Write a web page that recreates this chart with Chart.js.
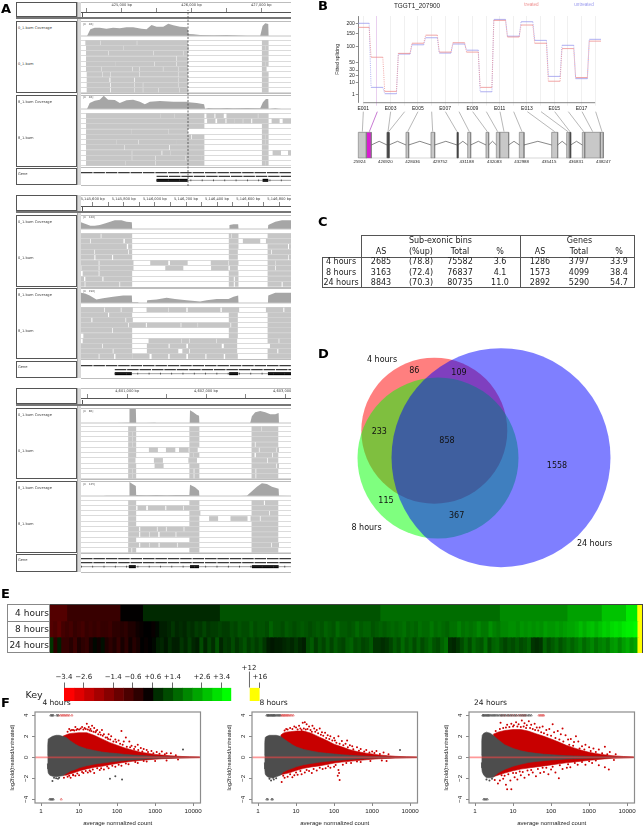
<!DOCTYPE html>
<html>
<head>
<meta charset="utf-8">
<script src="https://cdn.jsdelivr.net/npm/chart.js@4"></script>
<style>
  html, body { margin: 0; padding: 0; background: #fff; }
  #page { position: absolute; left: 0; top: 0; width: 643px; height: 827px; overflow: hidden; filter: blur(0.35px); }
  #page canvas, #page div, #page span { position: absolute; }
  #page span { white-space: nowrap; font-family: "DejaVu Sans", sans-serif; color: #222; line-height: 1; }
</style>
</head>
<body>
<div id="page"></div>
<script>
// ---------- panel A: browser tracks, x read in view units along each track ----------
const viewMin = 244, viewMax = 872;

const ruler1Ticks = [424500,425000,425500,426000,426500,427000];
const ruler2Ticks = [5145600,5145700,5145800,5145900,5146000,5146100,5146200,5146300,5146400,5146500,5146600,5146700,5146800];
const ruler3Ticks = [4600500,4601000,4601500,4602000,4602500,4603000];

const cov1a = [[244,0],[262,0],[272,20],[285,25],[300,25],[320,22],[340,25],[360,23],[380,26],[400,26],[425,22],[440,20],[455,33],[470,28],[490,28],[505,37],[520,32],[540,28],[562,26],[566,6],[580,5],[600,3],[640,2],[680,3],[700,2],[740,1],[780,1],[787,30],[795,38],[804,36],[805,0],[872,0]];
const reads1a = [
  [258,300,303,410,413,563,786,804],
  [260,370,372,552,553,565,786,794,796,804],
  [260,325,328,460,463,548,551,563,786,804],
  [260,528,531,563,786,804],
  [260,345,347,462,465,528,531,563,786,794,796,804],
  [260,303,306,397,400,418,421,488,491,533,536,563,786,798],
  [262,306,309,330,333,418,421,533,536,563,786,804],
  [262,328,333,402,406,533,536,563,786,804],
  [262,330,334,403,406,428,431,533,536,563,786,804],
  [262,330,334,403,406,428,431,475,478,538,541,563,786,804]
];
const cov1b = [[244,0],[262,0],[270,18],[285,25],[300,28],[312,40],[325,28],[345,27],[360,18],[380,26],[400,28],[420,22],[435,14],[450,22],[480,24],[520,22],[562,22],[566,20],[590,18],[612,14],[615,0],[625,3],[640,2],[660,2],[680,3],[700,2],[740,3],[780,2],[788,20],[797,30],[804,30],[805,0],[825,2],[835,1],[845,0],[872,0]];
const reads1b = [
  [260,480,482,523,525,563,565,612,620,642,647,670,680,772,775,804],
  [260,563,565,612,622,645,652,675,680,703,705,727,730,752,757,804,815,837,848,872],
  [260,563,565,612,786,804],
  [260,393,395,505,507,563,786,804],
  [260,563,565,572,576,612,786,794,796,804],
  [260,350,352,415,418,530,532,563,565,612,786,794,796,804],
  [260,372,375,507,511,563,565,612,786,804],
  [260,395,398,484,488,510,512,563,565,612,786,804,818,841,864,872],
  [260,395,398,465,468,554,557,563,565,602,604,612,786,804],
  [260,376,378,465,468,563,565,612,786,794,796,804]
];
const cov2a = [[244,20],[256,16],[272,10],[285,10],[300,12],[320,18],[345,26],[365,26],[380,22],[396,20],[397,0],[687,0],[688,12],[700,14],[714,14],[715,0],[803,0],[804,12],[825,22],[845,26],[872,26]];
const reads2a = [
  [244,302,306,396,687,693,696,714,803,872],
  [244,270,274,370,376,396,687,714,729,779,798,872],
  [244,380,386,396,687,714,803,862,867,872],
  [244,283,287,384,388,396,687,712,803,812,816,872],
  [244,283,288,336,341,396,687,712,803,862,866,872],
  [244,296,300,400,452,504,511,562,633,684,687,714,803,825,828,872],
  [246,296,300,400,497,549,634,684,690,712,803,824,828,872],
  [250,296,300,396,687,714,803,872],
  [244,252,258,307,312,396,687,700,705,714,803,872],
  [244,254,258,358,362,396,687,700,705,714,803,843,848,872]
];
const cov2b = [[244,30],[256,28],[270,22],[290,10],[310,14],[340,18],[370,22],[396,22],[397,2],[415,2],[416,0],[441,0],[442,8],[470,10],[500,15],[525,12],[560,8],[600,4],[620,8],[650,12],[685,12],[700,18],[714,22],[715,0],[803,0],[804,22],[825,30],[872,30]];
const reads2b = [
  [244,312,316,362,366,398,441,505,508,558,564,660,666,716,798,848,853,872],
  [244,324,329,396,687,712,803,872],
  [244,274,279,376,380,398,687,712,803,872],
  [244,384,388,437,442,541,545,592,595,690,694,712,803,872],
  [244,336,340,396,687,712,803,872],
  [252,396,687,712,803,872],
  [250,396,447,544,547,567,570,648,651,710,803,834,838,872],
  [244,306,310,396,442,505,510,558,565,664,672,710,810,872],
  [244,338,342,396,442,534,548,566,570,710,803,830,835,872],
  [244,296,300,342,348,398,400,448,456,504,510,558,565,615,620,670,676,712,803,872]
];
const cov3a = [[244,0],[350,0],[380,1],[388,1],[389,42],[408,42],[409,0],[440,0],[465,1],[470,0],[569,0],[570,38],[580,32],[590,25],[597,22],[598,0],[750,0],[755,20],[765,32],[780,36],[795,32],[810,26],[825,26],[835,30],[836,0],[872,0]];
const reads3a = [
  [386,408,569,597,755,783,786,833],
  [386,397,399,408,569,597,755,833],
  [386,397,399,408,569,597,755,833],
  [386,397,399,408,569,597,755,763,767,833],
  [386,408,448,473,499,525,538,565,569,592,755,775,779,827,830,835],
  [386,408,569,580,582,597,755,762,768,815,819,833],
  [386,406,463,488,566,590,755,800,804,833],
  [386,408,465,490,569,597,755,827,831,835],
  [386,397,399,408,569,580,584,597,755,765,769,833],
  [386,397,399,408,569,580,584,597,755,765,769,833]
];
const cov3b = [[244,0],[310,0],[320,1],[388,1],[389,42],[398,36],[408,30],[409,3],[440,2],[470,3],[500,2],[530,3],[568,3],[570,34],[585,26],[597,16],[598,0],[720,0],[740,1],[755,14],[770,28],[785,38],[800,36],[815,28],[835,22],[836,1],[872,0]];
const reads3b = [
  [386,408,569,597,755,790,795,833],
  [386,408,414,438,445,495,500,549,553,597,755,833],
  [386,408,569,600,755,806,810,833],
  [386,408,569,597,628,653,692,741,752,778,782,833],
  [386,408,569,597,755,833],
  [386,417,422,470,474,497,501,550,554,597,755,833],
  [386,417,422,447,450,474,480,526,530,597,755,833],
  [386,408,569,597,755,833],
  [386,417,422,447,450,475,480,530,534,597,755,812,816,835],
  [386,394,398,408,569,597,755,833]
];
const geneBoxes1 = [[470,563],[787,804]];
const geneBoxes2 = [[345,396],[687,714],[803,872]];
const geneBoxes3 = [[387,408],[570,597],[755,835]];

// ---------- panel B ----------
const binLabels = ["E001","E002","E003","E004","E005","E006","E007","E008","E009","E010","E011","E012","E013","E014","E015","E016","E017","E018"];
const splicingTreated = [181,66,3.3,78,112,143,82,114,82,6.4,217,136,193,112,12,93,17,120];
const splicingUntreated = [202,6.4,1.5,76,106,133,79,109,88,3,222,139,210,123,18.6,104,15.5,127];
const splicingTicks = [1,10,20,30,50,100,150,200];
const splicingTickPos = [0,35,57,73,96,144,183,212];
const exons = [[145,169],[169,184],[231,237],[288,296],[363,374],[441,444],[473,482],[528,536],[559,569],[569,596],[628,642],[725,743],[770,778],[778,782],[817,824],[824,871],[871,880]];
const introns = [[184,231],[237,288],[296,363],[374,441],[444,473],[482,528],[536,559],[596,628],[642,725],[743,770],[782,817]];
const binAnchors = [160,202,242,284,324,365,406,447,488,529,570,611,652,693,734,775,816,857];
const exonAnchors = [157,178,234,236,293,368,441,478,532,563,582,636,734,774,780,821,848,876];
const modelTickPos = [145,226,308,390,470,553,635,717,798,880];
const modelTickLabels = ["425924","426920","428036","429752","431188","432083","432988","435415","436831","438247"];

// ---------- panel C ----------
const tableHeads = ["AS","(%up)","Total","%","AS","Total","%"];
const tableRows = ["4 hours","8 hours","24 hours"];
const tableValues = [
  ["2685","(78.8)","75582","3.6","1286","3797","33.9"],
  ["3163","(72.4)","76837","4.1","1573","4099","38.4"],
  ["8843","(70.3)","80735","11.0","2892","5290","54.7"]
];

// ---------- panel D ----------
const vennNames = ["4 hours","8 hours","24 hours"];
const vennCentres = [[434.3,430.7],[438,458],[501,457.7]];
const vennRadii = [73,80.5,109.5];
const vennCounts = ["86","109","233","858","1558","115","367"];
const vennCountPos = [[223,94],[357,98],[118,277],[321,304],[651,378],[138,484],[350,529]];

// ---------- panel E ----------
const heatRows = ["4 hours","8 hours","24 hours"];
const heat4hEdges = [0,3,12,15.8,28.8,55.9,76.1,87.5,93.3,97.4,99.3,100];
const heat4hValues = [-1.1,-0.75,-0.03,0.55,1.1,1.45,1.85,2.15,2.6,3.1,12];
const heat8h = [-1.1,-1.0,-1.2,-0.9,-0.8,-0.9,-0.7,-0.8,-0.9,-0.7,-0.8,-0.7,-0.8,-0.7,-0.7,-0.8,-0.6,-0.6,-0.5,-0.6,-0.4,-0.4,-0.2,-0.1,0,0,-0.1,0.1,
  0.4,0.4,0.5,0.7,0.5,0.6,0.5,0.7,0.6,0.8,0.7,0.9,0.7,0.8,0.8,0.9,0.8,0.8,
  1.0,0.9,1.1,1.0,1.0,1.2,1.0,1.1,1.1,1.0,1.3,1.1,1.1,1.0,1.2,1.1,1.0,1.1,1.2,1.1,1.0,1.1,1.2,1.1,1.3,1.2,1.1,1.4,1.2,1.2,1.1,1.2,1.4,1.2,1.3,1.3,1.1,1.2,1.3,1.2,
  1.3,1.4,1.3,1.4,1.5,1.3,1.4,1.3,1.5,1.4,1.4,1.6,1.4,1.5,1.4,1.3,1.5,1.5,1.7,1.5,1.6,1.5,1.6,1.8,1.6,1.6,1.9,1.7,1.6,1.8,
  1.8,1.9,1.9,1.8,2.0,1.9,2.0,1.9,2.0,1.9,2.1,2.0,2.0,2.1,2.0,2.1,2.2,
  2.2,2.3,2.5,2.3,2.5,2.6,2.4,2.6,2.8,2.7,2.9,3.0,2.9,3.1,3.2,3.2,3.3,12];
const heat24h = [0.7,-0.6,0.4,-0.7,-0.7,-0.5,-0.8,-0.4,-0.6,-0.7,-0.3,0.1,-0.2,0.2,-0.4,-0.6,-0.4,-0.7,-0.3,-0.6,-0.2,-0.5,-0.3,0,-0.1,0,0.1,
  0.4,0.5,0.3,0.6,0.4,0.4,0.7,0.5,0.8,0.5,0.4,1.0,0.5,0.9,0.6,1.1,0.5,0.8,
  0.7,1.0,0.7,0.9,1.1,0.8,1.0,0.8,1.0,0.7,0.4,0.3,0.4,0.4,0.5,0.6,0.5,0.7,0.5,0.4,
  1.0,1.2,0.8,1.1,0.9,1.2,0.9,1.2,1.0,0.9,1.2,1.3,1.0,1.1,0.9,1.0,1.2,0.7,0.7,0.6,
  0.7,0.9,1.2,1.0,1.4,1.1,1.3,1.0,1.3,1.0,1.2,1.4,1.1,1.0,1.3,1.5,0.6,0.5,0.7,1.0,1.3,1.0,1.4,1.2,1.1,1.5,1.0,1.3,1.4,1.1,
  0.9,1.1,1.0,1.2,1.0,1.1,1.3,0.7,0.6,0.7,1.3,1.0,1.2,1.4,1.1,1.3,1.5,
  1.3,1.5,1.7,1.4,1.6,1.8,1.5,1.7,1.8,1.6,2.0,2.1,1.8,2.1,2.3,2.0,2.2,12];
const keyCells = [-3.4,-3,-2.6,-2.2,-1.8,-1.4,-1,-0.6,-0.1,0.6,1,1.4,1.8,2.2,2.6,3,3.4];
const keyTickPos = [0,2,5,7,9,11,14,16,19.875];
const keyTickLabels = ["\u22123.4","\u22122.6","\u22121.4","\u22120.6","+0.6","+1.4","+2.6","+3.4","+16"];

// ---------- panel F: count and log2 fold change ----------
const maTicks = [1,10,100,1000,10000];
const grayX4h = [1.47,1.5,1.55,1.7,2,2.5,3,3.7,4.6,6,8,10,16,25,40,65,100,160,250,400,700,1000,2000,4000,8000,15000];
const grayUp4h = [0.2,1.2,1.75,1.85,2.0,2.1,2.1,2.0,1.9,1.55,1.25,1.05,0.8,0.65,0.5,0.42,0.36,0.28,0.22,0.17,0.12,0.09,0.06,0.04,0.03,0.02];
const grayLo4h = [-0.6,-1.1,-1.5,-1.7,-1.8,-1.85,-1.8,-1.75,-1.55,-1.3,-1.15,-1.0,-0.8,-0.65,-0.55,-0.45,-0.38,-0.3,-0.25,-0.2,-0.14,-0.1,-0.07,-0.05,-0.03,-0.02];
const redX4h = [3.7,4.6,5.5,7,10,16,25,40,65,100,160,250,400,700,1000,1500,2500,4000,8000,15000];
const redUp4h = [2.0,2.15,2.25,2.3,2.35,2.35,2.1,1.75,1.4,1.15,0.9,0.7,0.5,0.36,0.28,0.22,0.15,0.1,0.05,0.03];
const redLo4h = [-1.7,-1.7,-1.6,-1.5,-1.3,-1.1,-0.95,-0.85,-0.7,-0.58,-0.47,-0.38,-0.3,-0.22,-0.18,-0.14,-0.1,-0.07,-0.04,-0.02];
const redOut4h = [[16,3.2],[12,2.9],[8,2.9],[7,2.6],[5.5,2.7],[6,2.55],[9,2.7],[14,2.8],[18,2.9],[20,2.7],[25,2.8],[30,2.6],[35,2.4],[22,3.0],[28,2.5],[40,2.6],[45,2.2],[60,2.2],[55,1.9],[70,2.0],[90,1.7],[130,2.5],[110,1.6],[150,1.5],[170,1.9],[210,1.5],[240,1.1],[300,1.0],[350,1.2],[420,0.9],[500,0.8],[600,0.7],[800,0.6],[1100,0.5],[1500,0.55],[2000,0.4],[2600,0.4],[3500,0.2],
  [5,2.45],[6.5,2.6],[7.5,2.55],[8.5,2.6],[10,2.65],[11,2.75],[13,2.65],[15,2.7],[17,2.65],[19,2.55],[21,2.5],[24,2.45],[27,2.4],[32,2.2],[37,2.15],[42,2.05],[50,1.9],[58,1.75],[66,1.7],[80,1.5],[95,1.45],[120,1.3],[140,1.2],[180,1.0],[220,0.95],[280,0.8],[360,0.7],[460,0.55],[650,0.5],[900,0.4],[1300,0.35],[1800,0.3],
  [4,-1.95],[5,-1.85],[6,-1.95],[7,-1.7],[8,-1.75],[10,-1.7],[13,-1.5],[17,-1.45],[20,-1.35],[25,-1.5],[35,-1.2],[45,-1.15],[60,-1.05],[90,-0.9],[130,-0.8],[200,-0.65],[350,-0.55],[600,-0.4],[1000,-0.35],[2000,-0.3],[4000,-0.2],
  [5.5,-1.75],[7,-1.65],[9,-1.55],[12,-1.4],[15,-1.3],[19,-1.25],[23,-1.15],[30,-1.05],[38,-1.05],[55,-0.88],[75,-0.8],[110,-0.7],[170,-0.58],[300,-0.45],[500,-0.35]];
const grayOut4h = [[5400,0.75],[65,-2.05],[135,-2.1],[90,-1.8],[2,-2.25],[2.5,-2.0],[3,-1.95],[2.2,-1.95],[2.8,-2.05]];
const topDark4h = [1.8,1.9,2.0,2.1,2.6,2.8];
const topRed4h = [2.9,3.3,3.6,3.9,4.2,4.6,5,5.5,6.5];
const botDark4h = [1.7,1.8,1.9,2.0,2.1];
const botRed4h = [3.4];

const grayX8h = [1.47,1.5,1.55,1.7,2,2.5,3,3.9,4.6,6,8,10,16,25,40,65,100,160,250,400,700,1000,2000,4000,8000,15000];
const grayUp8h = [0.2,1.4,1.9,2.0,2.1,2.1,2.1,2.0,1.8,1.5,1.2,1.0,0.75,0.6,0.47,0.38,0.32,0.25,0.2,0.15,0.1,0.08,0.05,0.04,0.03,0.02];
const grayLo8h = [-0.5,-1.1,-1.6,-1.8,-1.95,-1.95,-1.85,-1.7,-1.4,-1.2,-1.05,-0.9,-0.7,-0.58,-0.47,-0.38,-0.32,-0.26,-0.2,-0.15,-0.12,-0.08,-0.06,-0.04,-0.03,-0.02];
const redX8h = [3.9,4.6,5.5,7,10,16,25,40,65,100,160,250,400,700,1000,1500,2500,4000,8000,15000];
const redUp8h = [2.1,2.3,2.4,2.45,2.5,2.5,2.3,1.95,1.6,1.25,1.0,0.75,0.55,0.4,0.32,0.23,0.16,0.1,0.05,0.03];
const redLo8h = [-1.65,-1.6,-1.55,-1.45,-1.25,-1.05,-0.92,-0.82,-0.68,-0.55,-0.45,-0.38,-0.31,-0.23,-0.18,-0.14,-0.1,-0.07,-0.04,-0.02];
const redOut8h = [[15,3.3],[17,3.35],[19,3.15],[12,3.0],[9,2.95],[7,2.8],[5.5,2.7],[10,2.85],[22,2.95],[27,3.0],[30,2.75],[35,2.6],[42,2.75],[48,2.4],[58,2.35],[68,2.1],[80,2.0],[100,1.85],[130,2.0],[105,1.6],[160,1.55],[200,1.3],[220,1.6],[260,1.15],[300,1.05],[400,0.95],[500,0.8],[700,0.7],[1000,0.55],[1300,0.6],[2000,0.45],[2700,0.3],
  [5,2.55],[6,2.65],[8,2.7],[11,2.65],[13,2.75],[14,2.6],[16,2.75],[18,2.65],[20,2.7],[24,2.6],[26,2.45],[32,2.45],[38,2.3],[45,2.15],[52,2.05],[62,1.85],[75,1.75],[90,1.6],[115,1.4],[140,1.3],[175,1.15],[230,0.95],[320,0.78],[450,0.62],[620,0.55],[850,0.45],[1150,0.42],[1600,0.33],
  [4.2,-2.35],[5,-1.95],[6,-1.85],[8,-1.9],[9,-1.7],[11,-1.65],[14,-1.6],[17,-1.45],[22,-1.3],[26,-1.5],[35,-1.25],[50,-1.1],[60,-1.05],[80,-1.0],[100,-0.9],[130,-1.2],[135,-1.5],[140,-2.15],[125,-1.75],[170,-0.7],[280,-0.55],[500,-0.45],[900,-0.35],[1800,-0.3],[2400,-0.35],
  [4.6,-1.75],[7,-1.6],[10,-1.45],[13,-1.3],[19,-1.2],[29,-1.1],[42,-0.98],[70,-0.85],[110,-0.72],[210,-0.55],[400,-0.4]];
const grayOut8h = [[5400,0.7],[2,-2.05],[2.2,-2.2],[2.6,-2.1],[3,-2.0],[2.5,-1.95]];
const topDark8h = [1.7,1.8,1.85,1.9,2.0,2.1,2.2,2.3,2.4,2.5,2.6,2.7,2.8,3,3.2,3.4,3.6,3.8];
const topRed8h = [4,4.3,4.5,4.8,5,5.3,5.7,6,6.4,7,7.6,8.4];
const botDark8h = [1.7,1.8,2.3,2.4];
const botRed8h = [];

const grayX24h = [1.47,1.5,1.55,1.7,2,2.5,3,4,6,10,16,25,40,65,100,160,250,400,700,1000,2000,4000,8000,15000];
const grayUp24h = [0.2,1.6,2.1,2.3,2.4,2.3,2.1,1.7,1.2,0.85,0.62,0.48,0.38,0.3,0.25,0.2,0.16,0.13,0.1,0.08,0.05,0.04,0.03,0.02];
const grayLo24h = [-0.5,-1.0,-1.4,-1.7,-1.95,-1.95,-1.9,-1.5,-1.15,-0.85,-0.65,-0.5,-0.4,-0.32,-0.26,-0.2,-0.16,-0.13,-0.1,-0.08,-0.06,-0.04,-0.03,-0.02];
const redX24h = [3,4,6,10,16,25,40,65,100,160,250,400,700,1000,1500,2500,4000,8000,15000];
const redUp24h = [2.2,2.4,2.55,2.65,2.65,2.5,2.25,2.0,1.75,1.45,1.15,0.9,0.62,0.48,0.36,0.25,0.16,0.08,0.03];
const redLo24h = [-1.85,-1.7,-1.5,-1.28,-1.12,-1.02,-0.92,-0.82,-0.72,-0.62,-0.52,-0.44,-0.35,-0.28,-0.22,-0.15,-0.09,-0.05,-0.02];
const redOut24h = [[4.7,3.3],[7,3.1],[9,3.2],[10.5,3.05],[12,3.35],[14,3.15],[17,3.5],[20,3.25],[23,3.05],[26,3.45],[30,3.1],[37,3.2],[42,2.85],[50,2.85],[60,2.95],[75,2.6],[90,2.7],[110,3.15],[120,2.4],[150,2.5],[180,2.2],[200,2.75],[240,2.1],[280,1.7],[330,1.75],[400,1.45],[450,2.0],[520,1.5],[650,1.05],[800,1.2],[1000,0.95],[1300,0.85],[1800,0.75],[2600,1.0],[3500,0.5],[5000,0.3],
  [3.5,2.5],[4.5,2.7],[5.5,2.8],[6.5,2.85],[8,2.9],[10,2.95],[13,2.95],[16,2.9],[19,2.95],[22,2.8],[28,2.8],[33,2.7],[38,2.6],[46,2.55],[55,2.4],[65,2.3],[80,2.15],[100,2.05],[130,1.85],[165,1.7],[210,1.5],[300,1.2],[380,1.1],[560,0.85],[750,0.75],[1100,0.6],[1500,0.5],[2200,0.4],[3000,0.3],
  [3.3,-2.15],[4,-2.5],[4.5,-2.2],[5.5,-2.05],[6.5,-2.6],[7,-3.05],[9,-3.05],[8.5,-2.2],[11,-1.9],[13,-2.1],[16,-1.7],[20,-1.95],[26,-1.65],[33,-1.45],[40,-1.8],[52,-1.5],[65,-1.4],[85,-1.6],[100,-1.15],[130,-1.45],[160,-2.0],[200,-1.1],[260,-1.0],[320,-0.95],[500,-0.7],[800,-0.7],[1200,-0.55],[1800,-0.75],[2600,-0.95],[3300,-1.15],[4500,-0.25],
  [5,-1.7],[6,-1.75],[7.5,-1.6],[10,-1.5],[12,-1.5],[15,-1.35],[18,-1.4],[24,-1.25],[30,-1.2],[45,-1.1],[60,-1.0],[75,-1.0],[110,-0.9],[170,-0.75],[280,-0.65],[420,-0.55],[650,-0.45],[1000,-0.38],[1500,-0.3]];
const grayOut24h = [[2,-2.1],[2.4,-2.2],[2.8,-2.05]];
const topDark24h = [1.6,1.65,1.7,1.8,1.9,2,2.1,2.2,2.3,2.4,2.6,2.8,3,3.2,3.4,3.7,4,4.4,4.8,5.2,5.7,6.3,7,7.8,8.6,9.6,11,12,14,16,18,20,22,25,27,30];
const topRed24h = [5,6,7.5,9,10.5,12.5,15,17,19,21,48,52,56,60,64];
const botDark24h = [1.7,1.8,1.95,2.1];
const botRed24h = [];

// ---------- helpers ----------
const page = document.getElementById("page");

function box(x, y, w, h, css) {
  const d = document.createElement("div");
  d.style.cssText = `left:${x}px;top:${y}px;width:${w}px;height:${h}px;box-sizing:border-box;${css}`;
  page.appendChild(d);
}

function text(str, x, y, o = {}) {
  const s = document.createElement("span");
  s.textContent = str;
  const ax = o.align === "l" ? "0" : o.align === "r" ? "-100%" : "-50%";
  s.style.cssText = `left:${x}px;top:${y}px;font-size:${o.size || 8}px;transform:translate(${ax},-50%);`;
  if (o.weight) s.style.fontWeight = o.weight;
  if (o.family) s.style.fontFamily = o.family;
  if (o.color) s.style.color = o.color;
  page.appendChild(s);
}

function canvasAt(x, y, w, h) {
  const c = document.createElement("canvas");
  c.width = w;
  c.height = h;
  c.style.cssText = `left:${x}px;top:${y}px;width:${w}px;height:${h}px;`;
  page.appendChild(c);
  return c;
}

function baseOptions(scales, padding) {
  return {
    responsive: false,
    animation: false,
    events: [],
    layout: { padding: padding || 0, autoPadding: false },
    plugins: { legend: { display: false }, tooltip: { enabled: false } },
    elements: { point: { radius: 0 }, line: { tension: 0 } },
    scales,
  };
}

const hidden = (min, max, extra) => ({ type: "linear", display: false, min, max, ...extra });

function lineSet(points, color, width, extra) {
  return { data: points.map((p) => ({ x: p[0], y: p[1] })), borderColor: color, borderWidth: width, fill: false, pointRadius: 0, ...extra };
}

// outline first so it paints above the fill, the library draws the first dataset last
function rectSets(x0, x1, yTop, yBase, fillColor, edge, edgeWidth) {
  const sets = [lineSet([[x0, yTop], [x1, yTop]], fillColor, 0, { fill: { value: yBase }, backgroundColor: fillColor })];
  if (edgeWidth > 0) sets.unshift(lineSet([[x0, yBase], [x0, yTop], [x1, yTop], [x1, yBase], [x0, yBase]], edge, edgeWidth));
  return sets;
}

function heatColor(v) {
  if (v >= 12) return "#ffff00";
  const c = Math.round(255 * Math.min(Math.abs(v), 3.4) / 3.4);
  return v < 0 ? `rgb(${c},0,0)` : `rgb(0,${c},0)`;
}

// ---------- panel A ----------
function coverageChart(x, y, w, h, cov, top) {
  new Chart(canvasAt(x, y, w, h), {
    type: "line",
    data: {
      datasets: [
        lineSet([[viewMin, 0], [viewMax, 0]], "#c4c4c4", 1),
        lineSet(cov, "#a6a6a6", 0, { fill: "origin", backgroundColor: "#a6a6a6" }),
      ],
    },
    options: baseOptions({ x: hidden(viewMin, viewMax), y: hidden(-3, top) }),
  });
}

function readsChart(x, y, w, h, rows) {
  const labels = rows.map((r, i) => "r" + i);
  const data = [];
  rows.forEach((r, i) => {
    for (let k = 0; k < r.length; k += 2) data.push({ x: [r[k], r[k + 1]], y: "r" + i });
  });
  new Chart(canvasAt(x, y, w, h), {
    type: "bar",
    data: { labels, datasets: [{ data, backgroundColor: "#c6c6c6", barThickness: 4.1 }] },
    options: {
      ...baseOptions({
        x: hidden(viewMin, viewMax),
        y: {
          type: "category",
          ticks: { display: false },
          border: { display: false },
          grid: { color: "#d2d2d2", lineWidth: 0.8, offset: true, drawTicks: false },
          afterFit(s) { s.width = 0; },
        },
      }),
      indexAxis: "y",
    },
  });
}

function geneChart(x, y, w, h, rowsY, start, boxes, zTop, zBot) {
  const datasets = [
    lineSet([[viewMin, rowsY[0]], [viewMax, rowsY[0]]], "#3a3a3a", 1.4, { borderDash: [11.5, 0.9] }),
    lineSet([[start, rowsY[1]], [viewMax, rowsY[1]]], "#3a3a3a", 1.4, { borderDash: [11.5, 0.9] }),
    lineSet([[start, rowsY[2]], [viewMax, rowsY[2]]], "#444", 0.5),
    lineSet([[start, rowsY[2]], [viewMax, rowsY[2]]], "#333", 1.6, { borderDash: [0.8, 10.5] }),
  ];
  boxes.forEach((b) => datasets.push(lineSet([[b[0], rowsY[2]], [b[1], rowsY[2]]], "#000", 3)));
  new Chart(canvasAt(x, y, w, h), {
    type: "line",
    data: { datasets },
    options: baseOptions({ x: hidden(viewMin, viewMax), y: hidden(zTop, zBot, { reverse: true }) }),
  });
}

function rulerChart(x, y, w, h, min, max, ticks, every) {
  new Chart(canvasAt(x, y, w, h), {
    type: "line",
    data: { datasets: [] },
    options: baseOptions({
      x: {
        type: "linear",
        position: "top",
        min,
        max,
        afterBuildTicks(s) { s.ticks = ticks.map((v) => ({ value: v })); },
        grid: { display: true, drawOnChartArea: false, tickLength: 4, color: "#555", lineWidth: 0.7 },
        border: { color: "#555" },
        ticks: {
          autoSkip: false,
          maxRotation: 0,
          padding: 1,
          font: { size: 3.6, family: "DejaVu Sans" },
          color: "#444",
          callback: (v) => (v % every === 0 ? v.toLocaleString("en-US") + " bp" : ""),
        },
        afterFit(s) { s.height = h - 2; s.paddingLeft = 0; s.paddingRight = 0; },
      },
      y: hidden(0, 1),
    }),
  });
}

function igvBlock(b) {
  const py = (z) => b.y0 + z / 3;
  const track = (t, name) => {
    box(16, py(t.box[0]), 61, (t.box[1] - t.box[0]) / 3, "border:1px solid #555;background:#fff;");
    box(81, py(t.box[0]), 210, 1, "background:#bdbdbd;");
    box(81, py(t.box[1]), 210, 1, "background:#bdbdbd;");
    text(name + ".bam Coverage", 18, py(t.box[0] + 24), { align: "l", size: 3.6, color: "#444" });
    text(name + ".bam", 18, py(t.rows[0] + 76), { align: "l", size: 3.6, color: "#444" });
    const covTop = Math.round(py(t.box[0] + 2));
    const covH = Math.round(py(t.base)) - covTop + 1;
    coverageChart(81, covTop, 210, covH, t.cov, t.base - t.box[0] - 2);
    text(t.range, 83, py(t.box[0] + 8), { align: "l", size: 2.8, color: "#555" });
    const rowTop = Math.round(py(t.rows[0]));
    readsChart(81, rowTop, 210, Math.round(py(t.rows[1])) - rowTop, t.reads);
  };
  box(16, py(b.head[0]), 61, (b.head[1] - b.head[0]) / 3, "border:1px solid #555;background:#fff;");
  box(77, py(b.head[0]), 4, py(b.gene[1]) - py(b.head[0]), "background:#d9d9d9;border-left:1px solid #aaa;");
  box(16, py(b.head[1]), 275, 2, "background:#777;");
  box(81, py(b.head[0]), 210, 1, "background:#bdbdbd;");
  box(81.5, py(b.head[1]) - 4, 0.8, 4, "background:#555;");
  track(b.a, "0_1");
  track(b.b, "8_1");
  rulerChart(81, Math.round(py(b.head[0])), 210, Math.round((b.head[1] - b.head[0]) / 3) - 3, b.ruler[0], b.ruler[1], b.ruler[2], b.ruler[3]);
  box(16, py(b.gene[0]), 61, (b.gene[1] - b.gene[0]) / 3, "border:1px solid #555;background:#fff;");
  box(81, py(b.gene[1]), 210, 1, "background:#bdbdbd;");
  text("Gene", 18, py(b.gene[0] + 21), { align: "l", size: 3.6, color: "#444" });
  const gTop = Math.round(py(b.gene[0]));
  const gH = Math.round(py(b.gene[1])) - gTop;
  geneChart(81, gTop, 210, gH, b.geneRows, b.geneStart, b.boxes, b.gene[0], b.gene[0] + gH * 3);
}

igvBlock({
  y0: 0, head: [7, 52], ruler: [424415, 427427, ruler1Ticks, 1000],
  a: { box: [64, 278], base: 108, rows: [120, 278], cov: cov1a, reads: reads1a, range: "[0 - 46]" },
  b: { box: [284, 500], base: 328, rows: [340, 498], cov: cov1b, reads: reads1b, range: "[0 - 46]" },
  gene: [504, 555], geneRows: [518, 529, 541], geneStart: 470, boxes: geneBoxes1,
});
igvBlock({
  y0: 190, head: [15, 62], ruler: [5145525, 5146875, ruler2Ticks, 200],
  a: { box: [74, 290], base: 118, rows: [130, 290], cov: cov2a, reads: reads2a, range: "[0 - 126]" },
  b: { box: [295, 508], base: 338, rows: [350, 508], cov: cov2b, reads: reads2b, range: "[0 - 196]" },
  gene: [513, 565], geneRows: [527, 539, 551], geneStart: 345, boxes: geneBoxes2,
});
igvBlock({
  y0: 380, head: [25, 71], ruler: [4600415, 4603076, ruler3Ticks, 1000],
  a: { box: [84, 298], base: 128, rows: [139, 298], cov: cov3a, reads: reads3a, range: "[0 - 86]" },
  b: { box: [304, 518], base: 348, rows: [359, 518], cov: cov3b, reads: reads3b, range: "[0 - 125]" },
  gene: [523, 575], geneRows: [537, 549, 561], geneStart: 244, boxes: geneBoxes3,
});

// dashed guide through the first block
new Chart(canvasAt(81, 10, 210, 176), {
  type: "line",
  data: { datasets: [lineSet([[564, 0], [564, 1]], "#444", 0.8, { borderDash: [2, 1.5] })] },
  options: baseOptions({ x: hidden(viewMin, viewMax), y: hidden(0, 1) }),
});

// ---------- panel B: fitted splicing ----------
function fittedPos(v) {
  const t = splicingTicks, p = splicingTickPos;
  let i = 0;
  while (i < t.length - 2 && v > t[i + 1]) i++;
  return p[i] + ((v - t[i]) / (t[i + 1] - t[i])) * (p[i + 1] - p[i]);
}

function splicingSet(values, color) {
  const pts = [];
  values.forEach((v, i) => {
    pts.push([i - 0.43, fittedPos(v)]);
    pts.push([i + 0.43, fittedPos(v)]);
  });
  return lineSet(pts, color, 0.8, {
    segment: { borderDash: (c) => (c.p0DataIndex % 2 === 1 ? [1, 1.2] : undefined) },
  });
}

new Chart(canvasAt(335, 14, 272, 97), {
  type: "line",
  data: {
    datasets: [
      splicingSet(splicingTreated, "#ee8f8f"),
      splicingSet(splicingUntreated, "#9a9aee"),
      lineSet([[0, -25], [17, -25]], "#666", 0.8, { clip: false }),
    ],
  },
  options: baseOptions(
    {
      x: {
        type: "linear",
        min: -0.367,
        max: 17.43,
        border: { display: false },
        grid: {
          color: (c) => (c.tick && c.tick.value === 1 ? "#e0bce8" : "#e9e9e9"),
          lineWidth: 0.7,
          tickLength: 3,
        },
        ticks: {
          stepSize: 1,
          includeBounds: false,
          autoSkip: false,
          maxRotation: 0,
          padding: 0,
          font: { size: 5, family: "Liberation Sans" },
          color: "#222",
          callback: (v) => (v % 2 === 0 ? binLabels[v] : ""),
        },
        afterFit(s) { s.height = 8.3; s.paddingLeft = 0; s.paddingRight = 0; },
      },
      y: {
        type: "linear",
        min: -25,
        max: 235,
        afterBuildTicks(s) { s.ticks = splicingTickPos.map((v) => ({ value: v })); },
        grid: { drawOnChartArea: false, tickLength: 2.5, color: "#666", lineWidth: 0.7 },
        border: { color: "#666", width: 0.8 },
        ticks: {
          autoSkip: false,
          padding: 1,
          font: { size: 5, family: "Liberation Sans" },
          color: "#222",
          callback: (v, i) => splicingTicks[i],
        },
        title: { display: true, text: "Fitted splicing", font: { size: 5, family: "Liberation Sans" }, color: "#222", padding: { top: 0, bottom: 2 } },
        afterFit(s) { s.width = 23.3; s.paddingTop = 0; s.paddingBottom = 0; },
      },
    },
    { top: 2, right: 6 }
  ),
});

// gene model under the splicing plot
const modelSets = [];
binAnchors.forEach((a, i) => {
  modelSets.push(lineSet([[a, 335], [exonAnchors[i], 395]], i === 1 ? "#b040c0" : "#9a9a9a", 0.7));
});
introns.forEach((g) => {
  modelSets.push(lineSet([[g[0], 435], [(g[0] + g[1]) / 2, 424], [g[1], 435]], "#555", 0.7));
});
modelSets.push(lineSet([[145, 475], [880, 475]], "#777", 0.7));
exons.forEach((e, i) => {
  const narrow = e[1] - e[0] < 7;
  const fillColor = i === 1 ? "#d81fd0" : narrow ? "#555" : "#c8c8c8";
  modelSets.push(...rectSets(e[0], e[1], 397, 475, fillColor, narrow ? "#444" : "#808080", 0.7));
});
new Chart(canvasAt(353, 111, 260, 53), {
  type: "line",
  data: { datasets: modelSets },
  options: baseOptions({
    x: {
      type: "linear",
      min: 129,
      max: 909,
      border: { display: false },
      afterBuildTicks(s) { s.ticks = modelTickPos.map((v) => ({ value: v })); },
      grid: { display: false, drawTicks: false },
      ticks: { autoSkip: false, maxRotation: 0, padding: 0.5, font: { size: 4.4, family: "Liberation Sans" }, color: "#222", callback: (v, i) => modelTickLabels[i] },
      afterFit(s) { s.height = 5.7; s.paddingLeft = 0; s.paddingRight = 0; },
    },
    y: hidden(333, 475, { reverse: true }),
  }),
});

text("TGGT1_207900", 417, 6, { size: 6.4, family: "Liberation Sans" });
text("treated", 531.5, 4.7, { size: 4.6, family: "Liberation Sans", color: "#ee8f8f" });
text("untreated", 584, 4.7, { size: 4.6, family: "Liberation Sans", color: "#9a9aee" });

// ---------- panel C: table ----------
const tableCols = [381, 421, 460, 500, 540, 579, 619];
box(361, 235, 274, 22.6, "border:1px solid #555;border-bottom:none;");
box(322, 257, 313, 31, "border:1px solid #555;");
box(360.5, 257, 1, 31, "background:#555;");
box(520, 235, 1, 53, "background:#555;");
text("Sub-exonic bins", 440.5, 241);
text("Genes", 579.5, 241);
tableHeads.forEach((h, i) => text(h, tableCols[i], 251.7));
tableRows.forEach((r, j) => {
  const y = 262 + j * 10.65;
  text(r, 341, y);
  tableValues[j].forEach((v, i) => text(v, tableCols[i], y));
});

// ---------- panel D: venn ----------
const vennColors = ["rgba(255,0,0,0.5)", "rgba(0,255,0,0.5)", "rgba(0,0,255,0.5)"];
new Chart(canvasAt(340, 340, 303, 235), {
  type: "bubble",
  data: {
    datasets: vennCentres.map((c, i) => ({
      data: [{ x: c[0], y: c[1], r: vennRadii[i] }],
      backgroundColor: vennColors[i],
      borderWidth: 0,
      order: 3 - i,
    })),
  },
  options: baseOptions({ x: hidden(340, 643), y: hidden(340, 575, { reverse: true }) }),
});
vennCounts.forEach((c, i) => text(c, 340 + vennCountPos[i][0] / 3, 340 + vennCountPos[i][1] / 3, { color: "#111" }));
text(vennNames[0], 382, 359.5, { color: "#111" });
text(vennNames[1], 366.5, 527.5, { color: "#111" });
text(vennNames[2], 594.5, 544, { color: "#111" });

// ---------- panel E: heat map and key ----------
function stripes(values, row) {
  const n = values.length;
  return {
    data: values.map((v, i) => ({ x: [(i * 100) / n, ((i + 1) * 100) / n], y: row })),
    backgroundColor: values.map(heatColor),
    borderWidth: 0,
  };
}

box(7, 604, 43, 49, "border:1px solid #888;background:#fff;");
box(7, 620.5, 43, 0.8, "background:#888;");
box(7, 636.5, 43, 0.8, "background:#888;");
box(50, 604, 593, 49, "background:#444;");
heatRows.forEach((r, i) => text(r, 49, 613 + i * 16, { align: "r", size: 9 }));

new Chart(canvasAt(50, 605, 592, 48), {
  type: "bar",
  data: {
    labels: heatRows,
    datasets: [
      {
        data: heat4hValues.map((v, i) => ({ x: [heat4hEdges[i], heat4hEdges[i + 1]], y: heatRows[0] })),
        backgroundColor: heat4hValues.map(heatColor),
        borderWidth: 0,
      },
      stripes(heat8h, heatRows[1]),
      stripes(heat24h, heatRows[2]),
    ],
  },
  options: {
    ...baseOptions({
      x: hidden(0, 100),
      y: { type: "category", display: false },
    }),
    indexAxis: "y",
    datasets: { bar: { grouped: false, categoryPercentage: 1, barPercentage: 0.96, inflateAmount: 0.6 } },
  },
});

const keySets = [lineSet([[18.83, 1], [18.83, 2.18]], "#444", 0.8, { clip: false })];
// each cell runs a little under its right neighbour so no seam shows between them
keyCells.forEach((v, i) => keySets.push(...rectSets(i, i === keyCells.length - 1 ? i + 1 : i + 1.08, 1, 0, heatColor(v), heatColor(v), 0)));
keySets.push(...rectSets(18.83, 19.875, 1, 0, "#ffff00", "#ffff00", 0));
new Chart(canvasAt(50, 664, 225, 37), {
  type: "line",
  data: { datasets: keySets },
  options: baseOptions(
    {
      x: {
        type: "linear",
        min: 0,
        max: 20,
        border: { display: false },
        position: "top",
        afterBuildTicks(s) { s.ticks = keyTickPos.map((v) => ({ value: v })); },
        grid: { drawOnChartArea: false, tickLength: 5, color: "#444", lineWidth: 0.8 },
        ticks: { autoSkip: false, maxRotation: 0, padding: 1, font: { size: 7, family: "DejaVu Sans" }, color: "#222", callback: (v, i) => keyTickLabels[i] },
        afterFit(s) { s.height = 23.5; s.paddingLeft = 0; s.paddingRight = 0; },
      },
      y: hidden(0, 1),
    },
    { left: 14, right: 14 }
  ),
});
text("+12", 249, 668, { size: 7 });
text("Key", 34, 694.5, { size: 9.5 });

// ---------- panel F: MA plots ----------
const framePlugin = {
  id: "frame",
  afterDraw(chart) {
    const a = chart.chartArea, c = chart.ctx;
    c.save();
    c.strokeStyle = "#8c8c8c";
    c.lineWidth = 1.2;
    c.strokeRect(a.left, a.top, a.right - a.left, a.bottom - a.top);
    c.restore();
  },
};

function toPoints(xs, ys) {
  return xs.map((x, i) => ({ x, y: ys[i] }));
}

function maPlot(left, name, p) {
  const markers = (xs, y, color, radius) => ({
    data: xs.map((x) => ({ x, y })), showLine: false, pointStyle: "triangle",
    pointRadius: radius, pointBackgroundColor: "transparent", pointBorderColor: color, pointBorderWidth: 0.6,
  });
  const dots = (pts, color, r) => ({
    data: pts.map((q) => ({ x: q[0], y: q[1] })), showLine: false, pointStyle: "circle",
    pointRadius: r, pointBackgroundColor: color, pointBorderWidth: 0,
  });
  const band = (xs, ys, color, fill) => ({
    data: toPoints(xs, ys), pointRadius: 0, borderWidth: 0.6, borderColor: color, backgroundColor: color, fill,
  });
  new Chart(canvasAt(left, 708, 200, 119), {
    type: "line",
    plugins: [framePlugin],
    data: {
      datasets: [
        lineSet([[0.695, 0], [15600, 0]], "rgba(255,70,70,0.55)", 1.6),
        markers(p.topDark, 4, "#555", 1.3),
        markers(p.botDark, -4, "#555", 1.3),
        markers(p.topRed, 4, "#e05a5a", 1.3),
        markers(p.botRed, -4, "#e05a5a", 1.3),
        band(p.grayX, p.grayUp, "#4d4d4d", "+1"),
        band(p.grayX, p.grayLo, "#4d4d4d", false),
        dots(p.grayOut, "#4d4d4d", 1),
        band(p.redX, p.redUp, "#c80000", "+1"),
        band(p.redX, p.redLo, "#c80000", false),
        dots(p.redOut, "#cc0000", 1),
      ],
    },
    options: baseOptions(
      {
        x: {
          type: "logarithmic",
          min: 0.695,
          max: 15600,
          afterBuildTicks(s) { s.ticks = maTicks.map((v) => ({ value: v })); },
          grid: { drawOnChartArea: false, tickLength: 3, color: "#555", lineWidth: 0.7 },
          border: { display: false },
          ticks: { autoSkip: false, maxRotation: 0, padding: 2, font: { size: 6.2, family: "Liberation Sans" }, color: "#222", callback: (v) => String(v) },
          title: { display: true, text: "average normalized count", font: { size: 6, family: "Liberation Sans" }, color: "#222", padding: { top: 3, bottom: 0 } },
          afterFit(s) { s.height = 24; s.paddingLeft = 0; s.paddingRight = 0; },
        },
        y: {
          type: "linear",
          min: -4.35,
          max: 4.32,
          afterBuildTicks(s) { s.ticks = [-4, -2, 0, 2, 4].map((v) => ({ value: v })); },
          grid: { drawOnChartArea: false, tickLength: 3, color: "#555", lineWidth: 0.7 },
          border: { display: false },
          ticks: { autoSkip: false, minRotation: 90, maxRotation: 90, padding: 2, crossAlign: "center", font: { size: 6.2, family: "Liberation Sans" }, color: "#222", callback: (v) => String(v).replace("-", "\u2212") },
          title: { display: true, text: "log2fold(treated/untreated)", font: { size: 5.6, family: "Liberation Sans" }, color: "#222", padding: { top: 2, bottom: 3 } },
          afterFit(s) { s.width = 28; s.paddingTop = 0; s.paddingBottom = 0; },
        },
      },
      { top: 4, right: 6.5 }
    ),
  });
  text(name, left + 28 + 21.5, 703, { size: 7.5 });
}

maPlot(7, "4 hours", { grayX: grayX4h, grayUp: grayUp4h, grayLo: grayLo4h, redX: redX4h, redUp: redUp4h, redLo: redLo4h, redOut: redOut4h, grayOut: grayOut4h, topDark: topDark4h, topRed: topRed4h, botDark: botDark4h, botRed: botRed4h });
maPlot(224, "8 hours", { grayX: grayX8h, grayUp: grayUp8h, grayLo: grayLo8h, redX: redX8h, redUp: redUp8h, redLo: redLo8h, redOut: redOut8h, grayOut: grayOut8h, topDark: topDark8h, topRed: topRed8h, botDark: botDark8h, botRed: botRed8h });
maPlot(441, "24 hours", { grayX: grayX24h, grayUp: grayUp24h, grayLo: grayLo24h, redX: redX24h, redUp: redUp24h, redLo: redLo24h, redOut: redOut24h, grayOut: grayOut24h, topDark: topDark24h, topRed: topRed24h, botDark: botDark24h, botRed: botRed24h });

// ---------- panel letters ----------
const panelLetters = [["A", 1, 8], ["B", 318, 5], ["C", 318, 221], ["D", 318, 353], ["E", 1, 593], ["F", 1, 702]];
panelLetters.forEach((p) => text(p[0], p[1], p[2], { align: "l", size: 13, weight: "bold", color: "#000" }));
</script>
</body>
</html>
